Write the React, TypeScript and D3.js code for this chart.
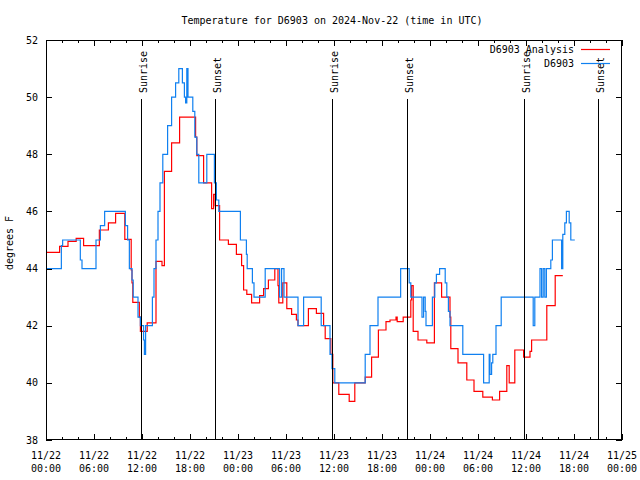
import React from "react";
import * as d3 from "d3";

// Hours since 2024-11-22 00:00 UTC
const blueHours = [0, 1.92, 2.08, 4.29, 4.5, 6.25, 6.8, 7.33, 9.92, 10.2, 10.42, 10.75, 10.9, 11.5, 11.8, 12.2, 12.3, 12.45, 13.3, 13.5, 13.75, 14.0, 14.25, 14.6, 15.2, 15.7, 16.2, 16.6, 17.05, 17.3, 17.45, 17.6, 17.75, 18.35, 18.6, 18.85, 19.1, 20.1, 21.05, 21.3, 21.6, 24.3, 25.05, 25.15, 25.8, 26.0, 27.4, 29.2, 29.45, 29.75, 31.5, 32.2, 34.4, 35.5, 35.75, 36.1, 39.9, 40.5, 41.5, 44.33, 45.4, 45.6, 47.0, 47.2, 47.4, 47.5, 48.3, 48.6, 48.8, 49.2, 49.9, 50.1, 50.3, 50.5, 52.1, 54.7, 55.4, 55.5, 55.7, 55.85, 56.25, 56.9, 60.9, 61.1, 61.75, 61.95, 62.15, 62.35, 62.55, 63.1, 63.3, 64.45, 64.6, 64.85, 65.05, 65.4, 65.6, 66.1];
const blueTemps = [44, 44.8, 45, 44.3, 44, 45, 45.5, 46, 45.5, 45, 44, 43.6, 43, 42.3, 42, 41.5, 41, 42, 43, 44, 45, 46, 47, 48, 49, 50, 50.5, 51, 50.5, 50, 49.8, 51, 50, 49.5, 48.6, 48, 47, 48, 47, 46.4, 46, 45, 44.5, 44, 43.5, 43, 44, 43, 44, 43, 42, 43, 42, 41, 40.5, 40, 41, 42, 43, 44, 43.5, 43, 42.3, 43, 42.5, 42, 43, 43.5, 43.8, 44, 43.5, 43, 42.5, 42, 41, 40, 41, 40.3, 40.7, 41, 42, 43, 42, 43, 44, 43, 44, 43, 44, 44.3, 45, 44, 45.2, 45.6, 46, 45.6, 45, 45];

const redHours = [0, 1.7, 2.75, 3.77, 4.7, 6.67, 7.8, 8.7, 9.85, 10.65, 10.75, 10.85, 11.67, 11.8, 12.65, 13.75, 14.5, 14.8, 15.7, 16.7, 18.7, 18.85, 19.7, 20.7, 20.95, 21.15, 21.7, 22.8, 23.8, 24.45, 24.7, 25.1, 25.7, 26.7, 27.2, 27.8, 28.6, 29.0, 29.1, 29.6, 30.1, 30.7, 31.3, 31.5, 32.8, 33.8, 34.7, 34.9, 35.6, 35.85, 36.6, 37.9, 38.6, 39.9, 40.7, 41.55, 42.5, 43.0, 43.75, 43.9, 44.65, 45.6, 45.7, 45.9, 46.5, 47.6, 48.55, 49.45, 50.5, 50.6, 51.5, 52.6, 53.5, 54.6, 55.8, 56.7, 57.6, 57.9, 58.6, 59.7, 60.5, 60.7, 62.6, 63.65, 64.6];
const redTemps = [44.57, 44.78, 44.95, 45.06, 44.8, 45.35, 45.6, 45.93, 45.02, 43.95, 43.5, 42.82, 42.3, 41.8, 42.1, 44.25, 44.1, 47.4, 48.4, 49.3, 48.6, 47.95, 47.0, 46.1, 46.6, 46.2, 45.0, 44.85, 44.5, 44.1, 43.25, 43.1, 42.8, 43.05, 43.3, 43.6, 44.0, 43.4, 42.8, 43.5, 42.6, 42.4, 42.2, 42.0, 42.6, 42.43, 42.0, 41.55, 41.0, 40.0, 39.6, 39.35, 40.0, 40.2, 40.9, 41.85, 42.14, 42.2, 42.3, 42.14, 42.3, 42.9, 43.4, 41.8, 41.5, 41.4, 43.5, 43.0, 42.3, 41.2, 40.7, 40.1, 39.7, 39.5, 39.4, 39.7, 40.6, 40.0, 41.15, 40.9, 41.1, 41.5, 42.7, 43.75, 43.75];

const sunHours = [11.87, 21.12, 35.79, 45.16, 59.79, 69.05];
const sunLabels = ["Sunrise", "Sunset", "Sunrise", "Sunset", "Sunrise", "Sunset"];

const xTickHours = [0, 6, 12, 18, 24, 30, 36, 42, 48, 54, 60, 66, 72];
const xTickDates = ["11/22", "11/22", "11/22", "11/22", "11/23", "11/23", "11/23", "11/23", "11/24", "11/24", "11/24", "11/24", "11/25"];
const xTickTimes = ["00:00", "06:00", "12:00", "18:00", "00:00", "06:00", "12:00", "18:00", "00:00", "06:00", "12:00", "18:00", "00:00"];
const yTicks = [38, 40, 42, 44, 46, 48, 50, 52];

const title = "Temperature for D6903 on 2024-Nov-22 (time in UTC)";
const seriesNames = ["D6903 Analysis", "D6903"];
const seriesColors = ["#ff0000", "#1080f0"];

export default function App() {
  const L = 46, R = 622, T = 40, B = 440;
  const x = d3.scaleLinear().domain([0, 72]).range([L, R]);
  const y = d3.scaleLinear().domain([38, 52]).range([B, T]);
  const font = "'DejaVu Sans Mono', monospace";

  const line = d3
    .line<[number, number]>()
    .x((d) => x(d[0]))
    .y((d) => y(d[1]))
    .curve(d3.curveStepAfter);

  const redPath = line(redHours.map((h, i) => [h, redTemps[i]]) as [number, number][]) || "";
  const bluePath = line(blueHours.map((h, i) => [h, blueTemps[i]]) as [number, number][]) || "";

  const minorX = d3.range(0, 73, 2);

  return (
    <svg
      width={640}
      height={480}
      style={{ position: "fixed", left: 0, top: 0, background: "#fff" }}
      fontFamily={font}
      fontSize={10}
    >
      <rect x={0} y={0} width={640} height={480} fill="#fff" />
      <text x={332} y={24} textAnchor="middle" fill="#000">{title}</text>

      {/* data */}
      <path d={redPath} fill="none" stroke={seriesColors[0]} strokeWidth={1.2} />
      <path d={bluePath} fill="none" stroke={seriesColors[1]} strokeWidth={1.2} />

      {/* sun lines */}
      {sunHours.map((h, i) => (
        <g key={"s" + i}>
          <line x1={Math.round(x(h)) + 0.5} x2={Math.round(x(h)) + 0.5} y1={99} y2={B} stroke="#000" strokeWidth={1} />
          <text
            transform={`translate(${Math.round(x(h)) + 6},93) rotate(-90)`}
            textAnchor="start"
            fill="#000"
          >
            {sunLabels[i]}
          </text>
        </g>
      ))}

      {/* frame */}
      <rect x={L + 0.5} y={T + 0.5} width={R - L - 1} height={B - T - 1} fill="none" stroke="#000" strokeWidth={1} />

      {/* x ticks */}
      {minorX.map((h) => {
        const major = h % 6 === 0;
        const len = major ? 6 : 3;
        const xx = Math.round(x(h)) + 0.5;
        return (
          <g key={"xt" + h}>
            <line x1={xx} x2={xx} y1={B} y2={B - len} stroke="#000" />
            <line x1={xx} x2={xx} y1={T} y2={T + len} stroke="#000" />
          </g>
        );
      })}
      {xTickHours.map((h, i) => (
        <g key={"xl" + i}>
          <text x={x(h)} y={459} textAnchor="middle" fill="#000">{xTickDates[i]}</text>
          <text x={x(h)} y={472} textAnchor="middle" fill="#000">{xTickTimes[i]}</text>
        </g>
      ))}

      {/* y ticks */}
      {yTicks.map((v) => {
        const yy = Math.round(y(v)) + 0.5;
        return (
          <g key={"yt" + v}>
            <line x1={L} x2={L + 6} y1={yy} y2={yy} stroke="#000" />
            <line x1={R} x2={R - 6} y1={yy} y2={yy} stroke="#000" />
            <text x={38} y={y(v)} dy="0.35em" textAnchor="end" fill="#000">{v}</text>
          </g>
        );
      })}
      <text transform="translate(13,243) rotate(-90)" textAnchor="middle" fill="#000">degrees F</text>

      {/* legend */}
      {seriesNames.map((n, i) => (
        <g key={"lg" + i}>
          <text x={574} y={53 + i * 14} textAnchor="end" fill="#000">{n}</text>
          <line x1={581} x2={610} y1={49.5 + i * 14} y2={49.5 + i * 14} stroke={seriesColors[i]} strokeWidth={1.2} />
        </g>
      ))}
    </svg>
  );
}
